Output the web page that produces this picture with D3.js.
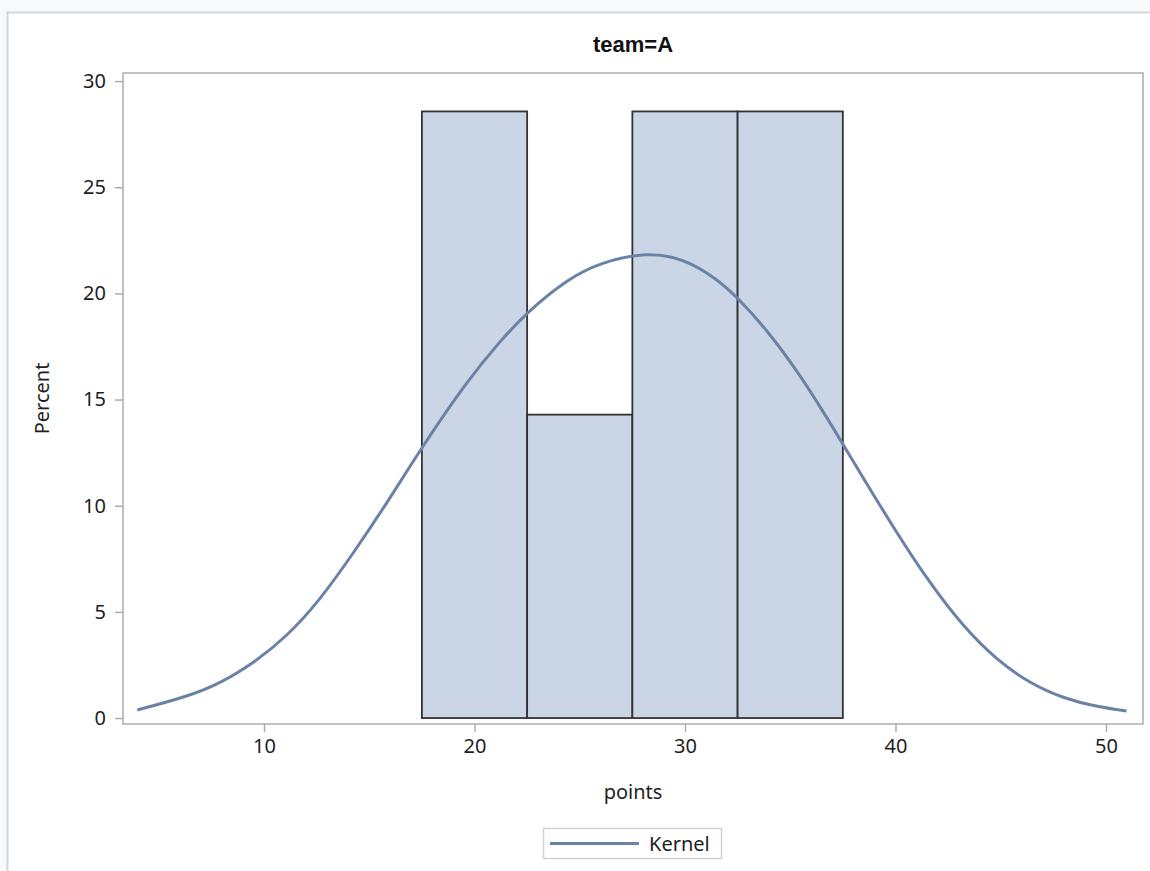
<!DOCTYPE html>
<html>
<head>
<meta charset="utf-8">
<script src="https://cdn.jsdelivr.net/npm/d3@7"></script>
<style>
  html, body { margin: 0; padding: 0; background: #fff; }
  svg { display: block; }
</style>
</head>
<body>
<script>
// histogram bins (points) and percent per bin
const binStarts = [17.5, 22.5, 27.5, 32.5];
const binEnds = [22.5, 27.5, 32.5, 37.5];
const binPercents = [28.57, 14.29, 28.57, 28.57];

// kernel density curve
const kernelX = [3.98, 6.33, 7.91, 9.49, 11.08, 12.66, 14.24, 15.83, 17.41, 19.63, 21.21, 22.48,
                 24.38, 25.96, 28.18, 29.92, 31.50, 32.45, 33.88, 35.46, 37.36, 38.47, 40.06,
                 41.64, 43.22, 44.81, 46.39, 47.97, 49.56, 50.98];
const kernelY = [0.38, 1.0, 1.63, 2.58, 3.83, 5.56, 7.76, 10.11, 12.62, 15.85, 17.75, 19.1,
                 20.65, 21.45, 21.95, 21.65, 20.7, 19.85, 18.3, 16.2, 13.15, 11.3, 8.72,
                 6.34, 4.30, 2.73, 1.63, 0.93, 0.53, 0.33];

const xTicks = [10, 20, 30, 40, 50];
const yTicks = [0, 5, 10, 15, 20, 25, 30];

const W = 1150, H = 871;
const plot = {left: 123, right: 1143, top: 73, bottom: 724};
const font = '"Noto Sans", sans-serif';

const svg = d3.select('body')
              .append('svg')
              .attr('width', W)
              .attr('height', H);

// page background and outer panel
svg.append('rect')
   .attr('width', W).attr('height', H)
   .attr('fill', '#f8f9fd');
svg.append('rect')
   .attr('x', 7.5).attr('y', 12.5)
   .attr('width', W).attr('height', H)
   .attr('fill', '#fff')
   .attr('stroke', '#d4d6da')
   .attr('stroke-width', 2);

const xScale = d3.scaleLinear()
                 .domain([3.3, 51.76])
                 .range([plot.left, plot.right]);

const yScale = d3.scaleLinear()
                 .domain([-0.28, 30.38])
                 .range([plot.bottom, plot.top]);

// bars
svg.selectAll('rect.bar')
   .data(binPercents)
   .enter()
     .append('rect')
     .attr('class', 'bar')
     .attr('x', (d, i) => xScale(binStarts[i]))
     .attr('y', (d) => yScale(d))
     .attr('width', (d, i) => xScale(binEnds[i]) - xScale(binStarts[i]))
     .attr('height', (d) => yScale(0) - yScale(d))
     .attr('fill', '#cad5e5')
     .attr('stroke', '#333')
     .attr('stroke-width', 1.8);

// kernel line
const line = d3.line()
               .x((d, i) => xScale(kernelX[i]))
               .y((d) => yScale(d))
               .curve(d3.curveBasis);

svg.append('path')
   .attr('d', line(kernelY))
   .attr('fill', 'none')
   .attr('stroke', '#6b82a7')
   .attr('stroke-width', 3);

// plot frame
svg.append('rect')
   .attr('x', plot.left).attr('y', plot.top)
   .attr('width', plot.right - plot.left)
   .attr('height', plot.bottom - plot.top)
   .attr('fill', 'none')
   .attr('stroke', '#a9adb3')
   .attr('stroke-width', 1.5);

const xAxis = d3.axisBottom(xScale).tickValues(xTicks).tickSize(8).tickPadding(7);
const yAxis = d3.axisLeft(yScale).tickValues(yTicks).tickSize(8).tickPadding(9);

const gx = svg.append('g') // x-axis
   .attr('transform', `translate(0, ${plot.bottom})`)
   .call(xAxis);
const gy = svg.append('g') // y-axis
   .attr('transform', `translate(${plot.left}, 0)`)
   .call(yAxis);

[gx, gy].forEach((g) => {
  g.select('.domain').remove();
  g.selectAll('line').attr('stroke', '#a9adb3').attr('stroke-width', 1.5);
  g.selectAll('text')
   .attr('fill', '#1e1e1e')
   .style('font-family', font)
   .style('font-size', '20px');
});

// title + axis labels
svg.append('text')
   .attr('x', (plot.left + plot.right) / 2)
   .attr('y', 52)
   .attr('text-anchor', 'middle')
   .style('font-family', '"Liberation Sans", Arial, sans-serif')
   .style('font-weight', 'bold')
   .style('font-size', '22px')
   .attr('fill', '#111')
   .text('team=A');

svg.append('text')
   .attr('x', (plot.left + plot.right) / 2)
   .attr('y', 799)
   .attr('text-anchor', 'middle')
   .style('font-family', font)
   .style('font-size', '20px')
   .attr('fill', '#1e1e1e')
   .text('points');

svg.append('text')
   .attr('transform', `translate(49, ${(plot.top + plot.bottom) / 2}) rotate(-90)`)
   .attr('text-anchor', 'middle')
   .style('font-family', font)
   .style('font-size', '20px')
   .attr('fill', '#1e1e1e')
   .text('Percent');

// legend
const legend = svg.append('g').attr('transform', 'translate(543, 828)');
legend.append('rect')
      .attr('x', 0.5).attr('y', 0.5)
      .attr('width', 178).attr('height', 30)
      .attr('fill', '#fff')
      .attr('stroke', '#cfd1d4')
      .attr('stroke-width', 1.5);
legend.append('line')
      .attr('x1', 7).attr('x2', 96)
      .attr('y1', 15.5).attr('y2', 15.5)
      .attr('stroke', '#6b82a7')
      .attr('stroke-width', 3);
legend.append('text')
      .attr('x', 106).attr('y', 22.5)
      .style('font-family', font)
      .style('font-size', '20px')
      .attr('fill', '#1e1e1e')
      .text('Kernel');
</script>
</body>
</html>
